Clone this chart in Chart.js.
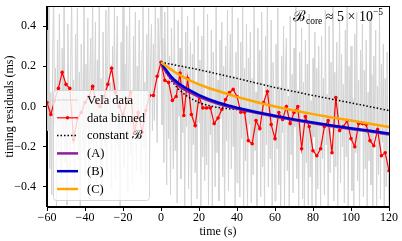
<!DOCTYPE html>
<html>
<head>
<meta charset="utf-8">
<script src="https://cdn.jsdelivr.net/npm/chart.js@4.4.0/dist/chart.umd.min.js"></script>
<style>
  html, body { margin: 0; padding: 0; background: #fff; }
</style>
</head>
<body>
<canvas id="chart" width="402" height="241"></canvas>
<script>
const FONT = 'Liberation Serif';

// raw timing residuals, one sample every 0.5 s from -60 s
const velaStart = -60;
const velaStep = 0.5;
const velaData = [
  0.38, -0.12, 0.51, -0.31, 0.07, -0.44, 0.26, 0.58, -0.09, 0.19, -0.52, 0.33, -0.21, 0.46, 0.02, -0.37, 0.29, -0.15, 0.62, -0.28, 0.11, -0.49, 0.41, 0.05,
  -0.33, 0.24, 0.55, -0.19, 0.13, -0.42, 0.36, -0.06, 0.49, -0.27, 0.17, -0.55, 0.31, 0.08, -0.23, 0.57, -0.35, 0.21, -0.11, 0.44, -0.46, 0.15, 0.34, -0.18,
  0.6, -0.25, 0.09, 0.42, -0.38, 0.23, -0.04, 0.53, -0.29, 0.14, -0.47, 0.37, 0.01, -0.2, 0.48, -0.33, 0.27, 0.66, -0.14, 0.12, -0.41, 0.3, -0.08, 0.52,
  -0.36, 0.18, 0.45, -0.22, 0.04, -0.5, 0.32, -0.13, 0.57, -0.3, 0.21, -0.06, 0.4, -0.43, 0.16, 0.5, -0.24, 0.08, -0.39, 0.35, -0.1, 0.47, -0.32, 0.2,
  -0.17, 0.43, 0.03, -0.34, 0.28, 0.55, -0.21, 0.12, -0.38, 0.36, -0.02, 0.49, -0.26, 0.22, 0.41, -0.12, 0.31, -0.07, 0.52, 0.06, -0.18, 0.44, 0.15, 0.37,
  0.61, -0.09, 0.34, -0.28, 0.47, 0.1, -0.39, 0.56, -0.16, 0.25, -0.44, 0.39, 0.03, -0.31, 0.58, -0.22, 0.17, -0.48, 0.43, -0.05, 0.29, -0.36, 0.51, -0.13,
  0.2, -0.53, 0.37, -0.1, 0.45, -0.41, 0.06, 0.32, -0.57, 0.26, -0.19, 0.49, -0.33, 0.11, -0.46, 0.4, -0.08, 0.23, -0.52, 0.35, -0.25, 0.55, -0.37, 0.04,
  -0.29, 0.46, -0.49, 0.18, -0.14, 0.38, -0.55, 0.27, 0.01, -0.4, 0.52, -0.23, 0.13, -0.47, 0.33, -0.06, 0.42, -0.35, 0.2, -0.58, 0.3, -0.17, 0.48, -0.42,
  0.09, 0.36, -0.31, 0.54, -0.2, 0.15, -0.5, 0.27, -0.38, 0.44, -0.03, -0.45, 0.32, -0.16, 0.5, -0.53, 0.19, -0.27, 0.41, -0.6, 0.24, -0.09, 0.37, -0.48,
  0.14, -0.34, 0.53, -0.22, 0.07, -0.56, 0.39, -0.12, 0.28, -0.45, 0.47, -0.3, 0.02, -0.51, 0.35, -0.19, 0.58, -0.4, 0.11, -0.26, 0.43, -0.54, 0.22, -0.07,
  -0.47, 0.31, -0.21, 0.49, -0.39, 0.1, -0.58, 0.25, -0.13, 0.4, -0.5, 0.18, 0.34, -0.32, 0.05, -0.55, 0.45, -0.24, 0.16, -0.43, 0.29, -0.1, 0.52, -0.36,
  0.08, -0.52, 0.27, -0.17, 0.39, -0.46, 0.12, -0.6, 0.33, -0.28, 0.21, -0.49, 0.46, -0.35, 0.03, -0.57, 0.24, -0.15, 0.37, -0.62, 0.19, -0.41, 0.3, -0.08,
  -0.5, 0.35, -0.26, 0.14, -0.44, 0.48, -0.19, 0.06, -0.59, 0.4, -0.33, 0.22, -0.11, 0.55, -0.47, 0.17, -0.3, 0.32, -0.54, 0.09, 0.43, -0.38, 0.26, -0.2,
  0.11, -0.48, 0.38, -0.25, 0.5, -0.56, 0.2, -0.14, 0.3, -0.42, 0.04, -0.6, 0.36, -0.23, 0.47, -0.37, 0.13, -0.52, 0.28, -0.09, 0.41, -0.45, 0.18, -0.31,
  0.33, -0.54, 0.07, -0.27, 0.44, -0.39, 0.16, -0.58, 0.25, -0.12, 0.38, -0.5, 0.1, -0.34, 0.49, -0.46, 0.21, -0.18, 0.31, -0.57, 0.14, -0.4, 0.27, -0.29,
  -0.52
];

const binTimes = [
  -60, -58, -56, -54, -52, -50, -48, -46, -44, -42, -40, -38, -36, -34, -32, -30, -28, -26, -24, -22,
  -20, -18, -16, -14, -12, -10, -8, -6, -4, -2,
  0, 2, 4, 6, 8, 10, 12, 14, 16, 18, 20, 22, 24, 26, 28, 30, 32, 34, 36, 38,
  40, 42, 44, 46, 48, 50, 52, 54, 56, 58, 60, 62, 64, 66, 68, 70, 72, 74, 76, 78,
  80, 82, 84, 86, 88, 90, 92, 94, 96, 98, 100, 102, 104, 106, 108, 110, 112, 114, 116, 118, 120
];
const binValues = [
  0.02, -0.04, 0.03, 0.09, 0.17, 0.11, 0.09, -0.165, -0.06, -0.03, 0.02, 0.05, 0.10, 0.02, 0.0, 0.05, 0.11, 0.19, 0.07, 0.0,
  -0.04, 0.02, 0.07, -0.13, -0.03, -0.13, -0.02, 0.055, 0.055, 0.15,
  0.22, 0.13, 0.12, 0.03, 0.05, 0.165, -0.045, 0.14, -0.04, -0.095, 0.05, -0.007, -0.007, -0.007, -0.085, -0.057, -0.015, 0.035, 0.07, 0.085,
  0.05, -0.028, -0.028, -0.17, -0.185, -0.07, -0.11, 0.02, 0.075, -0.09, -0.16, -0.03, -0.065, 0.0, -0.085, -0.03, 0.0, -0.21, -0.05, -0.10,
  -0.22, -0.245, -0.21, -0.10, -0.07, -0.23, 0.045, -0.12, -0.10, -0.07, -0.16, -0.20, -0.085, -0.085, -0.09, -0.17, -0.195, -0.115, -0.245, -0.23, -0.32
];

const fitTimes = [0, 1, 2, 3, 5, 7, 10, 13, 16, 20, 25, 30, 35, 40, 50, 60, 70, 80, 90, 100, 110, 120];
const fitA = [0.22, 0.2, 0.183, 0.168, 0.142, 0.122, 0.098, 0.08, 0.066, 0.048, 0.03, 0.013, 0.0, -0.011, -0.031, -0.05, -0.067, -0.083, -0.098, -0.112, -0.125, -0.139];
const fitB = [0.22, 0.205, 0.19, 0.178, 0.152, 0.133, 0.11, 0.092, 0.077, 0.057, 0.037, 0.02, 0.006, -0.006, -0.027, -0.046, -0.064, -0.08, -0.094, -0.108, -0.121, -0.134];
const fitC = [0.22, 0.213, 0.206, 0.199, 0.186, 0.173, 0.156, 0.14, 0.126, 0.11, 0.092, 0.077, 0.062, 0.048, 0.022, 0.0, -0.02, -0.038, -0.055, -0.07, -0.086, -0.102];

const constTimes = [0, 20, 40, 60, 80, 100, 120];
const constValues = [0.22, 0.183, 0.14, 0.094, 0.055, 0.018, -0.02];
const steepTimes = [0, 2, 4, 7, 10, 14, 20, 25, 30, 40];
const steepValues = [0.22, 0.18, 0.15, 0.11, 0.08, 0.05, 0.02, 0.005, -0.005, -0.015];

const xTicks = [-60, -40, -20, 0, 20, 40, 60, 80, 100, 120];
const yTicks = [-0.4, -0.2, 0.0, 0.2, 0.4];

const pts = (xs, ys) => xs.map((x, i) => ({ x, y: ys[i] }));
const minus = s => String(s).replace('-', '\u2212');

const velaPts = velaData.map((v, i) => ({ x: velaStart + i * velaStep, y: v }));

const frame = {
  id: 'frame',
  afterDatasetsDraw(chart) {
    const { ctx, chartArea: a } = chart;
    ctx.save();
    ctx.strokeStyle = '#000';
    ctx.lineWidth = 1;
    ctx.strokeRect(Math.round(a.left) - 0.5, Math.round(a.top) + 0.5, Math.round(a.right - a.left) + 1, Math.round(a.bottom - a.top) - 1);
    ctx.restore();
  }
};

const legendBox = {
  id: 'legendBox',
  afterDraw(chart) {
    const ctx = chart.ctx;
    const bx = 53.5, by = 90.5, bw = 96, bh = 110;
    ctx.save();
    ctx.beginPath();
    ctx.roundRect(bx, by, bw, bh, 3);
    ctx.fillStyle = 'rgba(255,255,255,0.8)';
    ctx.fill();
    ctx.strokeStyle = '#d6d6d6';
    ctx.lineWidth = 1;
    ctx.stroke();

    const items = chart.data.datasets.filter(d => d.label);
    ctx.font = `12.5px "${FONT}"`;
    ctx.textBaseline = 'middle';
    ctx.fillStyle = '#000';
    items.forEach((d, i) => {
      const y = 100 + i * 17.8;
      ctx.beginPath();
      ctx.setLineDash(d.borderDash || []);
      ctx.strokeStyle = d.borderColor;
      ctx.lineWidth = d.borderWidth;
      ctx.moveTo(57, y);
      ctx.lineTo(78, y);
      ctx.stroke();
      ctx.setLineDash([]);
      if (d.pointRadius > 0) {
        ctx.beginPath();
        ctx.arc(67.5, y, d.pointRadius, 0, Math.PI * 2);
        ctx.fillStyle = d.pointBackgroundColor;
        ctx.fill();
      }
      ctx.fillStyle = '#000';
      ctx.fillText(d.label, 87, y + 0.5);
    });
    ctx.restore();
  }
};

const note = {
  id: 'note',
  afterDraw(chart) {
    const ctx = chart.ctx;
    const parts = [
      { t: '\u212C', size: 15, dy: 0 },
      { t: 'core', size: 9.5, dy: 3 },
      { t: ' \u2248 5 \u00D7 10', size: 14, dy: 0 },
      { t: '\u22125', size: 9.5, dy: -6 }
    ];
    ctx.save();
    ctx.textBaseline = 'alphabetic';
    ctx.fillStyle = '#000';
    let total = 0;
    parts.forEach(p => { ctx.font = `${p.size}px "${FONT}"`; p.w = ctx.measureText(p.t).width; total += p.w; });
    let x = 383 - total;
    parts.forEach(p => {
      ctx.font = `${p.size}px "${FONT}"`;
      ctx.fillText(p.t, x, 21 + p.dy);
      x += p.w;
    });
    ctx.restore();
  }
};

const tickFont = { family: FONT, size: 12 };

new Chart(document.getElementById('chart'), {
  type: 'line',
  data: {
    datasets: [
      { label: 'Vela data', data: velaPts, borderColor: '#d3d3d3', borderWidth: 1, pointRadius: 0, order: 6 },
      { label: 'data binned', data: pts(binTimes, binValues), borderColor: '#ff0000', borderWidth: 1.2, pointRadius: 1.8, pointBackgroundColor: '#ff0000', pointBorderWidth: 0, order: 5 },
      { label: 'constant \u212C', data: pts(constTimes, constValues), borderColor: '#000', borderWidth: 1.5, borderDash: [1.5, 2], pointRadius: 0, order: 4 },
      { label: '', data: pts(steepTimes, steepValues), borderColor: '#000', borderWidth: 1.5, borderDash: [1.5, 2], pointRadius: 0, cubicInterpolationMode: 'monotone', order: 4 },
      { label: '(A)', data: pts(fitTimes, fitA), borderColor: '#8e1e9e', borderWidth: 2.5, pointRadius: 0, order: 3 },
      { label: '(B)', data: pts(fitTimes, fitB), borderColor: '#0000cd', borderWidth: 2.5, pointRadius: 0, order: 2 },
      { label: '(C)', data: pts(fitTimes, fitC), borderColor: '#ffa500', borderWidth: 2.5, pointRadius: 0, order: 1 }
    ]
  },
  options: {
    responsive: false,
    animation: false,
    events: [],
    layout: { padding: { top: 6, right: 13, left: 0, bottom: 0 } },
    plugins: { legend: { display: false }, tooltip: { enabled: false } },
    elements: { line: { tension: 0 } },
    scales: {
      x: {
        type: 'linear', min: -60, max: 120,
        afterBuildTicks: s => { s.ticks = xTicks.map(v => ({ value: v })); },
        afterFit: s => { s.height = 34; s.paddingLeft = 0; s.paddingRight = 0; },
        grid: { drawOnChartArea: false, tickLength: 4, color: '#000' },
        border: { color: '#000' },
        ticks: { color: '#000', font: tickFont, padding: 0, maxRotation: 0, callback: v => minus(v) },
        title: { display: true, text: 'time (s)', color: '#000', font: tickFont, padding: { top: 0, bottom: 2 } }
      },
      y: {
        type: 'linear', min: -0.5, max: 0.5,
        afterBuildTicks: s => { s.ticks = yTicks.map(v => ({ value: v })); },
        afterFit: s => { s.width = 47; s.paddingTop = 0; s.paddingBottom = 0; },
        grid: { drawOnChartArea: false, tickLength: 4, color: '#000' },
        border: { color: '#000' },
        ticks: { color: '#000', font: tickFont, padding: 7, callback: v => minus(v.toFixed(1)) },
        title: { display: true, text: 'timing residuals (ms)', color: '#000', font: tickFont, padding: { top: 3, bottom: 0 } }
      }
    }
  },
  plugins: [frame, legendBox, note]
});
</script>
</body>
</html>
